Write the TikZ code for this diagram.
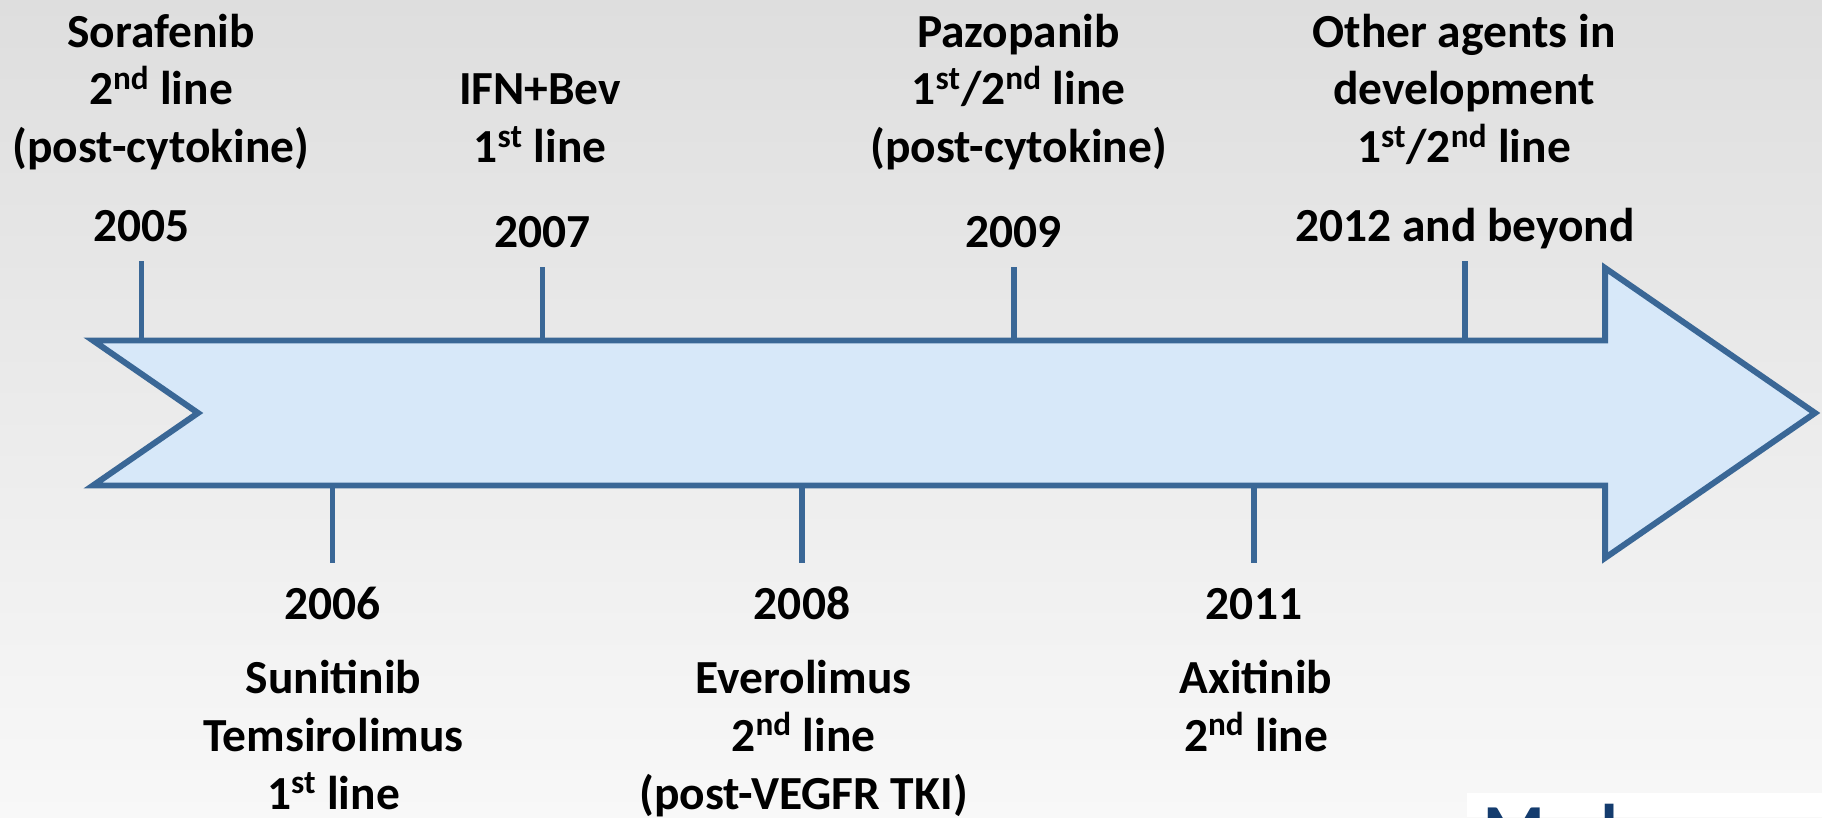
\documentclass[tikz,border=0pt]{standalone}
\usepackage{fontspec}
\setmainfont{Carlito}
\definecolor{linecol}{RGB}{58,103,150}
\definecolor{arrowfill}{RGB}{215,232,249}
\definecolor{bgtop}{RGB}{222,222,222}
\definecolor{bgbot}{RGB}{248,248,248}
\definecolor{logocol}{RGB}{20,60,110}

\begin{document}
\begin{tikzpicture}[
    lbl/.style={font=\bfseries\fontsize{27}{33}\selectfont, align=center, anchor=base, inner sep=0pt},
    tick/.style={draw=linecol, line width=3.4pt},
    timeline/.style={draw=linecol, fill=arrowfill, line width=3.4pt, line join=miter}
  ]
    \useasboundingbox (0,0) rectangle (36.44,16.34);

    % Background
    \shade[top color=bgtop, bottom color=bgbot] (0,0) rectangle (36.44,16.34);

    % Timeline arrow
    \coordinate (btop) at (0,9.53);
    \coordinate (bbot) at (0,6.63);
    \draw[timeline] (1.86,9.53) -- (32.1,9.53) -- (32.1,10.98) -- (36.3,8.08)
        -- (32.1,5.18) -- (32.1,6.63) -- (1.86,6.63) -- (3.96,8.08) -- cycle;

    % Years above the arrow
    \node[lbl] (y2005) at (2.83,11.51) {2005};
    \node[lbl] (y2007) at (10.85,11.39) {2007};
    \node[lbl] (y2009) at (20.27,11.39) {2009};
    \node[lbl] (y2012) at (29.3,11.51) {2012 and beyond};

    % Years below the arrow
    \node[lbl] (y2006) at (6.65,3.94) {2006};
    \node[lbl] (y2008) at (16.04,3.94) {2008};
    \node[lbl] (y2011) at (25.08,3.94) {2011};

    % Agents above (base = last line)
    \node[lbl] (sora) at (3.22,13.08) {Sorafenib\\2\textsuperscript{nd} line\\(post-cytokine)};
    \node[lbl] (ifnbev) at (10.8,13.08) {IFN+Bev\\1\textsuperscript{st} line};
    \node[lbl] (pazo) at (20.37,13.08) {Pazopanib\\1\textsuperscript{st}/2\textsuperscript{nd} line\\(post-cytokine)};
    \node[lbl] (other) at (29.28,13.08) {Other agents in\\development\\1\textsuperscript{st}/2\textsuperscript{nd} line};

    % Agents below
    \node[lbl] (suni) at (6.67,0.15) {Sunitinib\\Temsirolimus\\1\textsuperscript{st} line};
    \node[lbl] (evero) at (16.07,0.15) {Everolimus\\2\textsuperscript{nd} line\\(post-VEGFR TKI)};
    \node[lbl] (axi) at (25.12,1.32) {Axitinib\\2\textsuperscript{nd} line};

    % Ticks
    \foreach \yr in {2005,2007,2009,2012}
        \draw[tick] ([yshift=-0.4cm]y\yr.base) -- (y\yr.base |- btop);
    \foreach \yr in {2006,2008,2011}
        \draw[tick] (y\yr.base |- bbot) -- ([yshift=1.13cm]y\yr.base);

    % Logo corner
    \fill[white] (29.34,0) rectangle (36.44,0.48);
    \begin{scope}
        \clip (29.34,0) rectangle (36.44,0.48);
        \node[anchor=base west, inner sep=0pt, text=logocol, font=\bfseries\fontsize{40}{40}\selectfont] (logo) at (29.66,-0.72) {Med};
    \end{scope}
\end{tikzpicture}
\end{document}
